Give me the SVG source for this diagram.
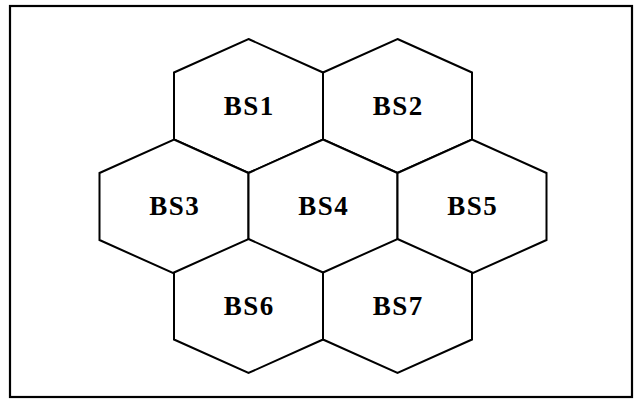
<svg xmlns="http://www.w3.org/2000/svg" xmlns:xlink="http://www.w3.org/1999/xlink" width="638" height="400" viewBox="0 0 638 400">
  <style>
    .hex { fill: #ffffff; stroke: #000000; stroke-width: 2; stroke-linejoin: miter; }
    .lbl { font-family: "Liberation Serif", "Times New Roman", serif; font-weight: bold; font-size: 27px; letter-spacing: 1.5px; fill: #000000; text-anchor: middle; }
    .frame { fill: #ffffff; stroke: #000000; stroke-width: 2.2; }
  </style>
  <defs>
    <polygon id="hexShape" points="0,-67 74.5,-33.5 74.5,33.5 0,67 -74.5,33.5 -74.5,-33.5"/>
  </defs>
  <rect class="frame" x="10" y="6" width="622" height="391"/>
  <g id="connectors"></g>
  <g id="BS1" transform="translate(248.5,106)">
    <use xlink:href="#hexShape" class="hex"/>
    <text class="lbl" x="0.75" y="8.8">BS1</text>
  </g>
  <g id="BS2" transform="translate(397.5,106)">
    <use xlink:href="#hexShape" class="hex"/>
    <text class="lbl" x="0.75" y="8.8">BS2</text>
  </g>
  <g id="BS3" transform="translate(174,206.5)">
    <use xlink:href="#hexShape" class="hex"/>
    <text class="lbl" x="0.75" y="8.8">BS3</text>
  </g>
  <g id="BS4" transform="translate(323,206.5)">
    <use xlink:href="#hexShape" class="hex"/>
    <text class="lbl" x="0.75" y="8.8">BS4</text>
  </g>
  <g id="BS5" transform="translate(472,206.5)">
    <use xlink:href="#hexShape" class="hex"/>
    <text class="lbl" x="0.75" y="8.8">BS5</text>
  </g>
  <g id="BS6" transform="translate(248.5,306)">
    <use xlink:href="#hexShape" class="hex"/>
    <text class="lbl" x="0.75" y="8.8">BS6</text>
  </g>
  <g id="BS7" transform="translate(397.5,306)">
    <use xlink:href="#hexShape" class="hex"/>
    <text class="lbl" x="0.75" y="8.8">BS7</text>
  </g>
</svg>
